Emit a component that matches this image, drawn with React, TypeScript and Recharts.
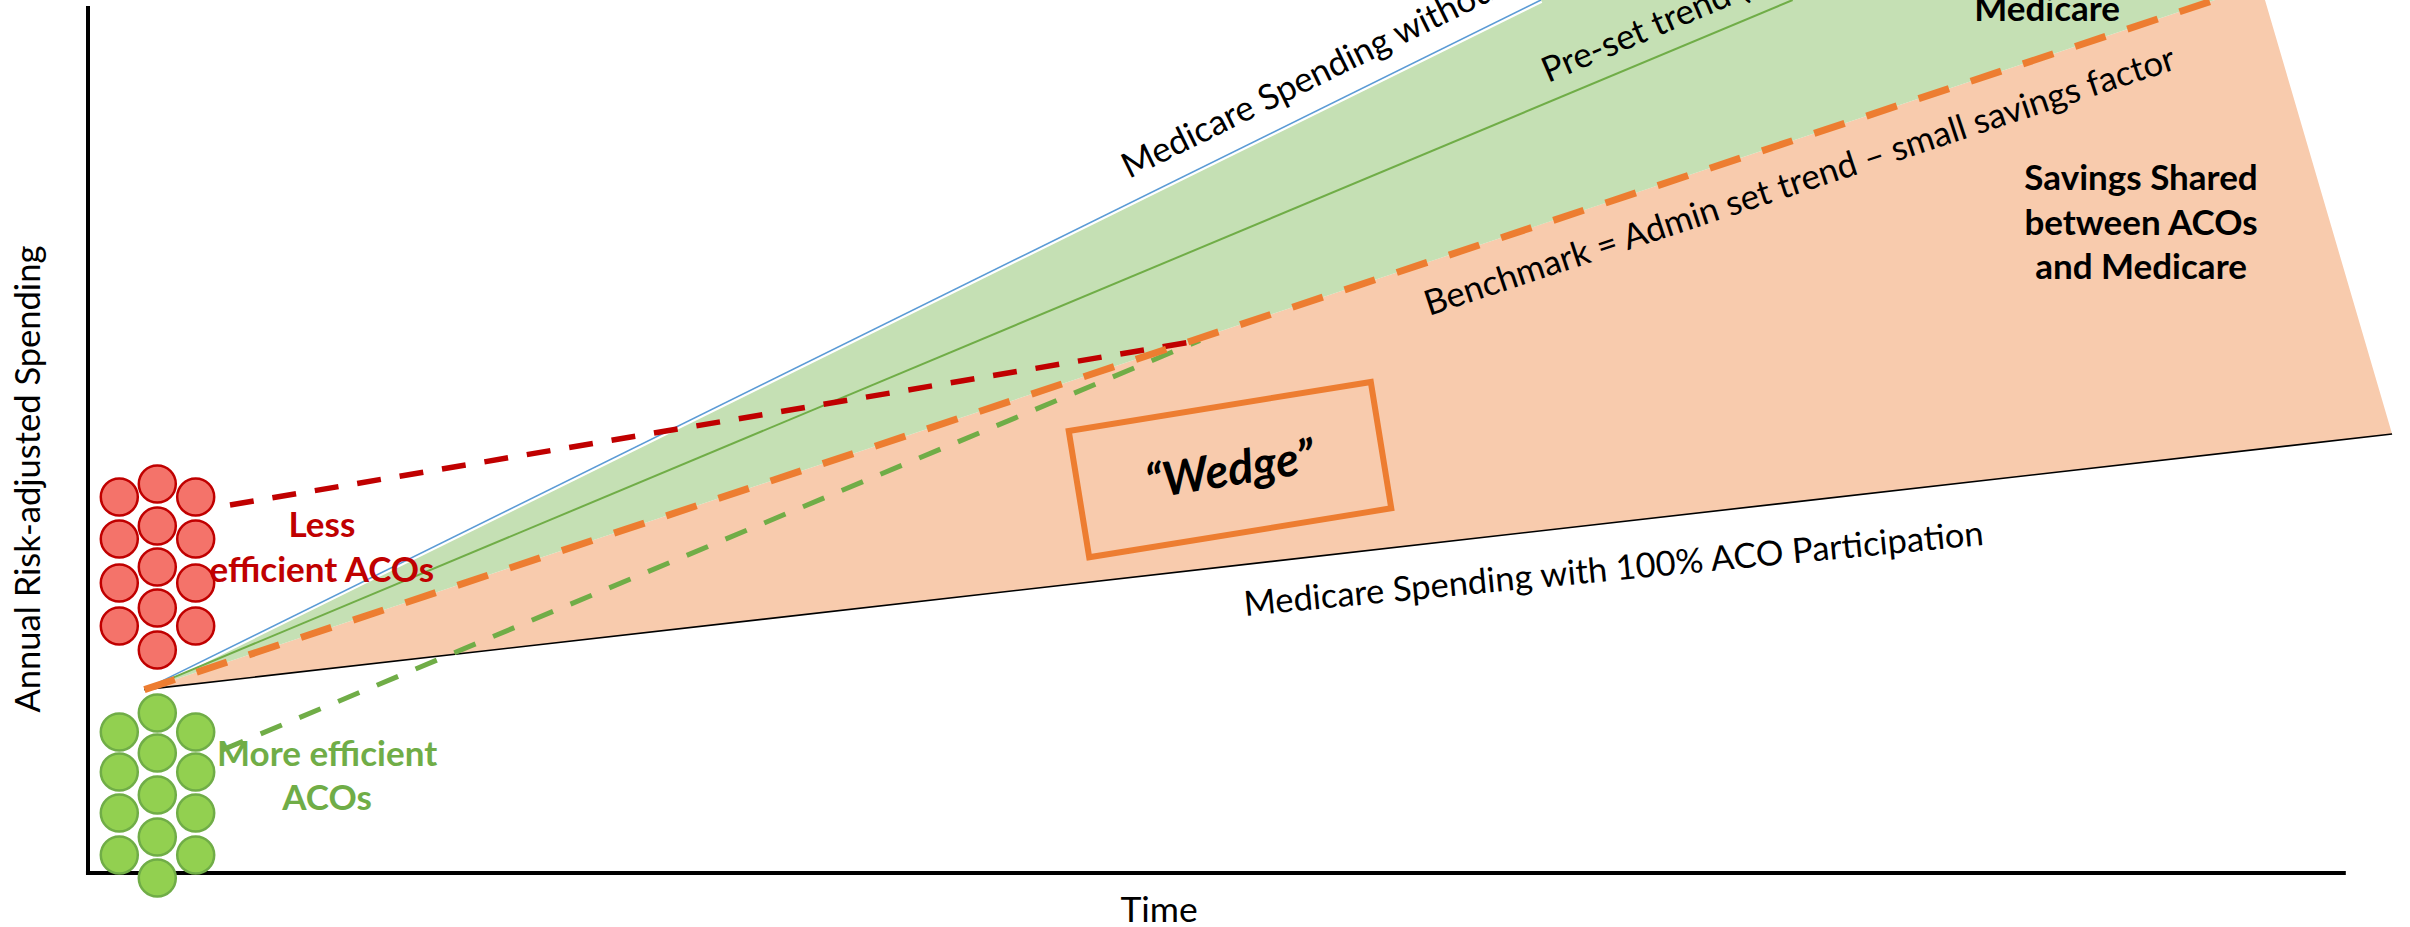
import React from 'react';
import {
  ComposedChart,
  XAxis,
  YAxis,
  Line,
  Area,
  Scatter,
  ReferenceLine,
  ReferenceDot,
} from 'recharts';

const FONT = 'Lato, "Noto Sans", sans-serif';

// ---- series (x = time units, y = spending units) ----
const spendingWithoutACOs = [
  { x: 2.5, y: 21 },
  { x: 64.35, y: 100 },
];
const presetTrend = [
  { x: 2.5, y: 21 },
  { x: 75.5, y: 100 },
];
const benchmarkTrend = [
  { x: 2.5, y: 21 },
  { x: 94.2, y: 100 },
];
const spendingFullParticipation = [
  { x: 2.5, y: 21 },
  { x: 102.05, y: 50.28 },
];
const lessEfficientPath = [
  { x: 6.29, y: 42.15 },
  { x: 49.25, y: 61.0 },
];
const moreEfficientPath = [
  { x: 5.93, y: 14.07 },
  { x: 49.25, y: 61.0 },
];

// ---- shaded bands ([low, high]) ----
const medicareSavingsBand = [
  { x: 2.5, range: [21, 21] },
  { x: 64.35, range: [74.28, 100] },
  { x: 94.2, range: [100, 100] },
];
const sharedSavingsBand = [
  { x: 2.5, range: [21, 21] },
  { x: 94.2, range: [47.97, 100] },
  { x: 96.42, range: [48.62, 100] },
  { x: 102.05, range: [50.28, 50.28] },
];

// ---- ACO markers ----
const lessEfficientACOs = [
  { x: 1.386, y: 43.06 }, { x: 1.386, y: 38.25 }, { x: 1.386, y: 33.21 }, { x: 1.386, y: 28.28 },
  { x: 3.069, y: 44.55 }, { x: 3.069, y: 39.74 }, { x: 3.069, y: 35.04 }, { x: 3.069, y: 30.35 }, { x: 3.069, y: 25.54 },
  { x: 4.77, y: 43.06 }, { x: 4.77, y: 38.25 }, { x: 4.77, y: 33.21 }, { x: 4.77, y: 28.28 },
];
const moreEfficientACOs = [
  { x: 1.386, y: 16.14 }, { x: 1.386, y: 11.56 }, { x: 1.386, y: 6.86 }, { x: 1.386, y: 2.05 },
  { x: 3.069, y: 18.32 }, { x: 3.069, y: 13.73 }, { x: 3.069, y: 8.92 }, { x: 3.069, y: 4.11 }, { x: 3.069, y: -0.58 },
  { x: 4.77, y: 16.14 }, { x: 4.77, y: 11.56 }, { x: 4.77, y: 6.86 }, { x: 4.77, y: 2.05 },
];

// ---- text labels ----
const xAxisTitle = 'Time';
const yAxisTitle = 'Annual Risk-adjusted Spending';

type Ann = {
  x: number;
  y: number;
  lines: string[];
  angle: number;
  size: number;
  weight: number;
  italic?: boolean;
  color: string;
  anchor: 'start' | 'middle' | 'end';
  gap?: number;
};

const annotations: Ann[] = [
  { x: 46.11, y: 79.49, lines: ['Medicare Spending without ACOs'], angle: -26.2, size: 35, weight: 400, color: '#000', anchor: 'start' },
  { x: 64.66, y: 90.48, lines: ['Pre-set trend ('], angle: -23, size: 35, weight: 400, color: '#000', anchor: 'start' },
  { x: 86.77, y: 97.59, lines: ['Medicare'], angle: 0, size: 35, weight: 700, color: '#000', anchor: 'middle' },
  { x: 59.39, y: 63.8, lines: ['Benchmark = Admin set trend \u2013 small savings factor'], angle: -18.3, size: 34.8, weight: 400, color: '#000', anchor: 'start' },
  { x: 90.93, y: 78.23, lines: ['Savings Shared', 'between ACOs', 'and Medicare'], angle: 0, size: 35, weight: 700, color: '#000', anchor: 'middle', gap: 44.5 },
  { x: 51.24, y: 29.43, lines: ['Medicare Spending with 100% ACO Participation'], angle: -5.5, size: 34.5, weight: 400, color: '#000', anchor: 'start' },
  { x: 10.36, y: 38.48, lines: ['Less', 'efficient ACOs'], angle: 0, size: 35, weight: 700, color: '#C00000', anchor: 'middle', gap: 45 },
  { x: 10.59, y: 12.25, lines: ['More efficient', 'ACOs'], angle: 0, size: 35, weight: 700, color: '#70AD47', anchor: 'middle', gap: 44 },
  { x: 47.44, y: -5.61, lines: [xAxisTitle], angle: 0, size: 35.5, weight: 400, color: '#000', anchor: 'middle' },
  { x: -2.13, y: 45.12, lines: [yAxisTitle], angle: -90, size: 34.5, weight: 400, color: '#000', anchor: 'middle' },
];

const wedge = { x: 50.58, y: 46.2, label: '\u201CWedge\u201D' };

const makeTextShape = (a: Ann) => (props: any) => {
  const { cx, cy } = props;
  return (
    <text
      x={cx}
      y={cy}
      transform={a.angle ? `rotate(${a.angle} ${cx} ${cy})` : undefined}
      textAnchor={a.anchor}
      fontFamily={FONT}
      fontSize={a.size}
      fontWeight={a.weight}
      fontStyle={a.italic ? 'italic' : 'normal'}
      fill={a.color}
    >
      {a.lines.map((l, i) => (
        <tspan key={i} x={cx} dy={i === 0 ? 0 : a.gap}>
          {l}
        </tspan>
      ))}
    </text>
  );
};

const wedgeShape = (props: any) => {
  const { cx, cy } = props;
  return (
    <g transform={`rotate(-9.2 ${cx} ${cy})`}>
      <rect x={cx - 153} y={cy - 64} width={306} height={128} fill="none" stroke="#ED7D31" strokeWidth={6} />
      <text
        x={cx}
        y={cy + 16}
        textAnchor="middle"
        fontFamily={FONT}
        fontSize={47}
        fontWeight={700}
        fontStyle="italic"
        fill="#000"
      >
        {wedge.label}
      </text>
    </g>
  );
};

const redCircle = (props: any) => (
  <circle cx={props.cx} cy={props.cy} r={18.5} fill="#F4736A" stroke="#C00000" strokeWidth={2.5} />
);
const greenCircle = (props: any) => (
  <circle cx={props.cx} cy={props.cy} r={18.5} fill="#92D050" stroke="#70AD47" strokeWidth={2.5} />
);

export default function App() {
  return (
    <div style={{ position: 'absolute', left: 0, top: 0, width: 2410, height: 927, background: '#ffffff' }}>
      <ComposedChart width={2410} height={927} margin={{ top: 0, right: 10, bottom: 0, left: 0 }}>
        <XAxis type="number" dataKey="x" domain={[0, 102.4]} allowDataOverflow height={27} axisLine={false} tickLine={false} tick={false} />
        <YAxis type="number" domain={[-3.1, 100]} allowDataOverflow width={88} axisLine={false} tickLine={false} tick={false} />

        <Area data={sharedSavingsBand} dataKey="range" type="linear" fill="#F8CBAD" fillOpacity={1} stroke="none" isAnimationActive={false} />
        <Area data={medicareSavingsBand} dataKey="range" type="linear" fill="#C5E0B4" fillOpacity={1} stroke="none" isAnimationActive={false} />

        <Line data={spendingWithoutACOs} dataKey="y" type="linear" stroke="#ffffff" strokeWidth={6} dot={false} activeDot={false} isAnimationActive={false} />
        <Line data={spendingWithoutACOs} dataKey="y" type="linear" stroke="#5B9BD5" strokeWidth={1.6} dot={false} activeDot={false} isAnimationActive={false} />
        <Line data={presetTrend} dataKey="y" type="linear" stroke="#70AD47" strokeWidth={2} dot={false} activeDot={false} isAnimationActive={false} />
        <Line data={spendingFullParticipation} dataKey="y" type="linear" stroke="#000000" strokeWidth={1.6} dot={false} activeDot={false} isAnimationActive={false} />
        <Line data={lessEfficientPath} dataKey="y" type="linear" stroke="#C00000" strokeWidth={5.5} strokeDasharray="24 19" dot={false} activeDot={false} isAnimationActive={false} />
        <Line data={moreEfficientPath} dataKey="y" type="linear" stroke="#70AD47" strokeWidth={5} strokeDasharray="23 19" dot={false} activeDot={false} isAnimationActive={false} />
        <Line data={benchmarkTrend} dataKey="y" type="linear" stroke="#ED7D31" strokeWidth={7} strokeDasharray="32 23" dot={false} activeDot={false} isAnimationActive={false} />

        <Scatter data={lessEfficientACOs} dataKey="y" shape={redCircle} isAnimationActive={false} />
        <Scatter data={moreEfficientACOs} dataKey="y" shape={greenCircle} isAnimationActive={false} />

        <ReferenceLine segment={[{ x: -0.09, y: 0 }, { x: 100, y: 0 }]} stroke="#000" strokeWidth={4} ifOverflow="visible" />
        <ReferenceLine segment={[{ x: 0, y: 0 }, { x: 0, y: 99.3 }]} stroke="#000" strokeWidth={4} ifOverflow="visible" />

        <ReferenceDot x={wedge.x} y={wedge.y} r={1} shape={wedgeShape} ifOverflow="visible" />
        {annotations.map((a, i) => (
          <ReferenceDot key={i} x={a.x} y={a.y} r={1} shape={makeTextShape(a)} ifOverflow="visible" />
        ))}
      </ComposedChart>
    </div>
  );
}
